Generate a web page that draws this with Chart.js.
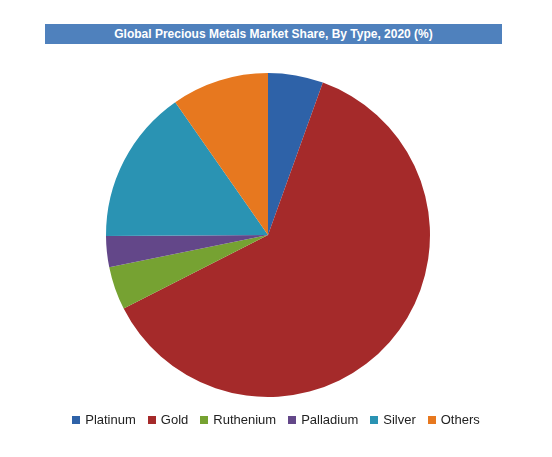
<!DOCTYPE html>
<html><head><meta charset="utf-8">
<script src="https://cdn.jsdelivr.net/npm/chart.js@4"></script>
<style>
body{margin:0;width:552px;height:457px;background:#fff;position:relative;font-family:"Liberation Sans",Calibri,sans-serif;overflow:hidden}
#t{position:absolute;left:45px;top:24px;width:457px;height:20px;background:#4f81bd;color:#fff;font-weight:bold;font-size:12px;line-height:20px;text-align:center}
#c{position:absolute;left:0;top:0}
#lg{position:absolute;left:0;width:552px;top:412px;text-align:center;font-size:13px;color:#222}
#lg span{display:inline-block;margin:0 6px}
#lg i{display:inline-block;width:8px;height:8px;margin-right:5px}
</style></head><body>
<canvas id="c" width="552" height="457"></canvas>
<div id="t">Global Precious Metals Market Share, By Type, 2020 (%)</div>
<div id="lg"></div>
<script>
const categories=["Platinum","Gold","Ruthenium","Palladium","Silver","Others"];
const shares=[5.5,62,4.3,3.1,15.4,9.7];
const colors=["#2e62a8","#a52a2a","#76a232","#634789","#2a93b3","#e7781f"];
document.getElementById('lg').innerHTML=categories.map((c,i)=>`<span><i style="background:${colors[i]}"></i>${c}</span>`).join('');
new Chart(document.getElementById('c'),{type:'pie',
data:{labels:categories,datasets:[{data:shares,backgroundColor:colors,borderWidth:0}]},
options:{responsive:false,animation:false,layout:{padding:{left:106,right:122,top:73,bottom:60}},
plugins:{legend:{display:false},tooltip:{enabled:false}}}});
</script></body></html>
